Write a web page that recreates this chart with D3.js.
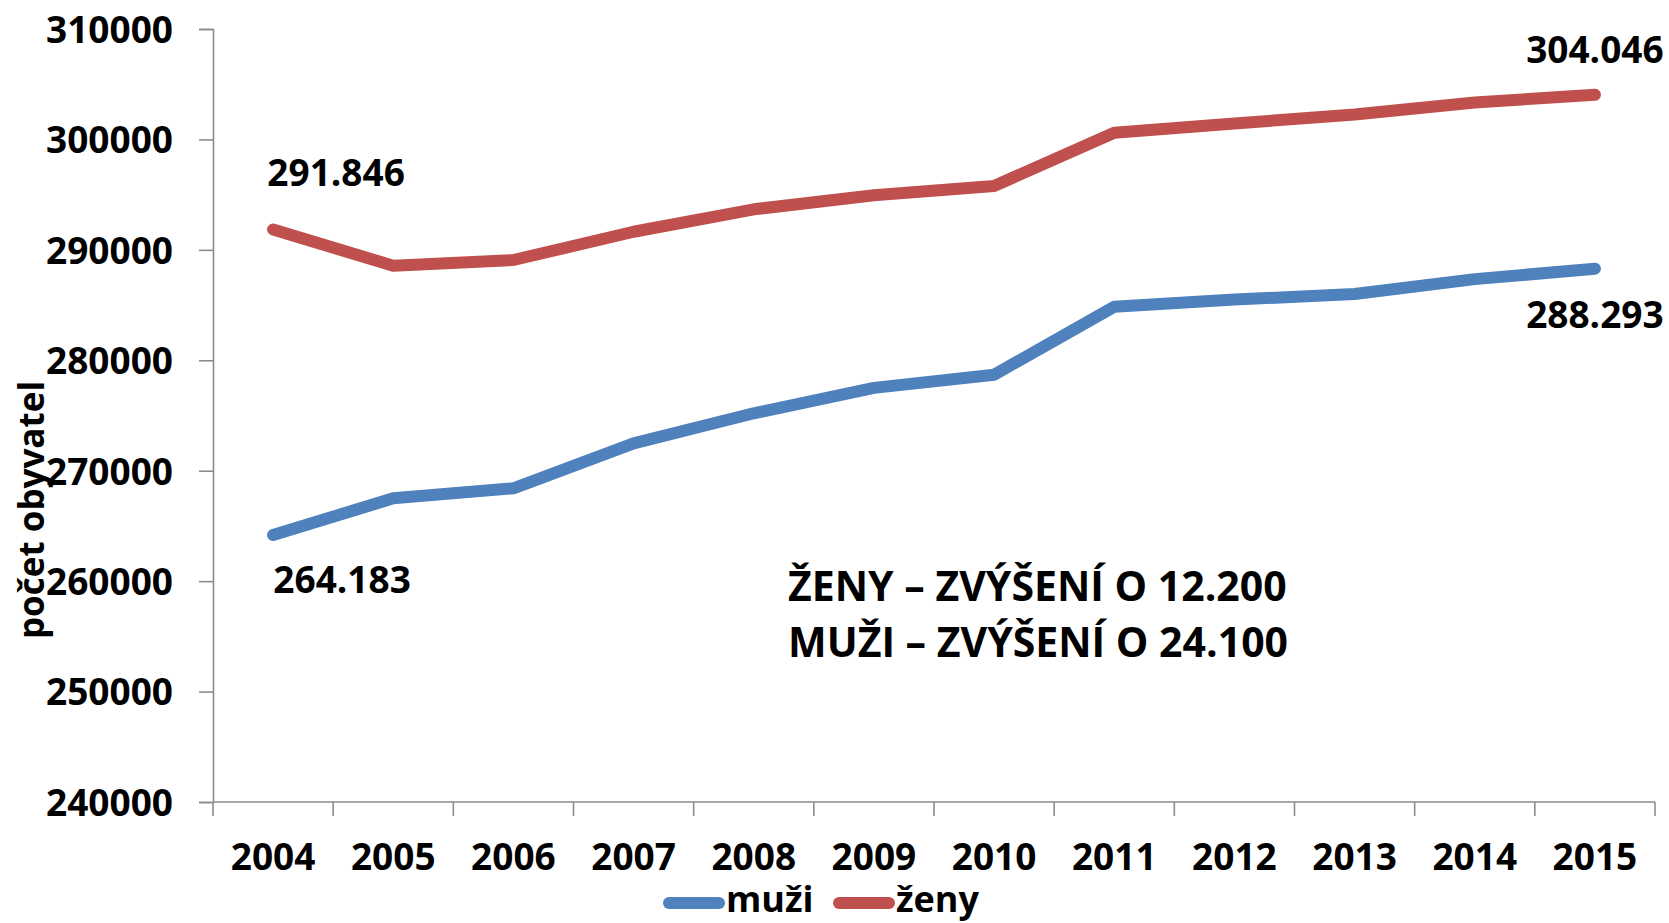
<!DOCTYPE html>
<html>
<head>
<meta charset="utf-8">
<script src="https://cdn.jsdelivr.net/npm/d3@7"></script>
<style>
  body { margin: 0; background: #fff; }
  text { font-family: "Open Sans", "Noto Sans", sans-serif; font-weight: 700; fill: #000; }
</style>
</head>
<body>
<div id="main"></div>
<script>
// data
const years = [2004, 2005, 2006, 2007, 2008, 2009, 2010, 2011, 2012, 2013, 2014, 2015]
const muzi = [264183, 267500, 268410, 272480, 275200, 277500, 278690, 284850, 285500, 286000, 287350, 288293]
const zeny = [291846, 288560, 289080, 291640, 293670, 294950, 295780, 300610, 301450, 302250, 303350, 304046]
const yTicks = [240000, 250000, 260000, 270000, 280000, 290000, 300000, 310000]
const seriesNames = ["muži", "ženy"]
const seriesColors = ["#4F81BD", "#C0504D"]
const yTitle = "počet obyvatel"
const note = ["ŽENY – ZVÝŠENÍ O 12.200", "MUŽI – ZVÝŠENÍ O 24.100"]

const W = 1669, H = 923
const ctx = {}

function initViz()
{
    let svg = d3.select("#main").append("svg").attr("width", W).attr("height", H)

    ctx.x = d3.scaleBand().domain(years).range([213, 1655])
    ctx.y = d3.scaleLinear().domain([240000, 310000]).range([802, 29])

    drawAxes(svg)
    drawLines(svg)
    drawLegend(svg)
}

function drawAxes(svg)
{
    // osa y
    let gy = svg.append("g").attr("transform", "translate(213,0)")
        .call(d3.axisLeft(ctx.y).tickValues(yTicks).tickSize(14).tickPadding(26).tickFormat(d3.format("d")))
    gy.selectAll("text").style("font-size", "37px").attr("dy", "0.36em")

    // osa x, carky mezi kategoriemi
    let gx = svg.append("g").attr("transform", "translate(0,802)")
    gx.append("line").attr("x1", 213).attr("x2", 1655).attr("y1", 0).attr("y2", 0)
    let edges = years.map(d => ctx.x(d)).concat([ctx.x(years[years.length - 1]) + ctx.x.bandwidth()])
    gx.selectAll(".tk").data(edges).enter().append("line")
        .attr("x1", d => d).attr("x2", d => d).attr("y1", 0).attr("y2", 14)
    gx.selectAll(".lb").data(years).enter().append("text")
        .attr("x", d => ctx.x(d) + ctx.x.bandwidth() / 2)
        .attr("y", 68)
        .attr("text-anchor", "middle")
        .style("font-size", "37px")
        .text(d => d)

    svg.selectAll(".domain, g line").attr("stroke", "#8c8c8c").attr("stroke-width", 1.6)

    svg.append("text")
        .attr("transform", "translate(44,510) rotate(-90)")
        .attr("text-anchor", "middle")
        .style("font-size", "35px")
        .text(yTitle)
}

function drawLines(svg)
{
    let data = [muzi, zeny]
    let cx = d => ctx.x(d) + ctx.x.bandwidth() / 2

    let line = d3.line()
        .x((d, i) => cx(years[i]))
        .y(d => ctx.y(d))

    svg.selectAll(".serie").data(data).enter().append("path")
        .attr("fill", "none")
        .attr("stroke", (d, i) => seriesColors[i])
        .attr("stroke-width", 12)
        .attr("stroke-linejoin", "round")
        .attr("stroke-linecap", "round")
        .attr("d", line)

    // popisky prvni a posledni hodnoty
    let fmt = d3.formatLocale({ decimal: ",", thousands: ".", grouping: [3], currency: ["", ""] }).format(",d")
    let last = years.length - 1
    let labels = [
        { v: zeny[0], x: cx(years[0]) + 63, dy: -43 },
        { v: muzi[0], x: cx(years[0]) + 69, dy: 58 },
        { v: zeny[last], x: cx(years[last]), dy: -32 },
        { v: muzi[last], x: cx(years[last]), dy: 59 }
    ]
    svg.selectAll(".val").data(labels).enter().append("text")
        .attr("x", d => d.x)
        .attr("y", d => ctx.y(d.v) + d.dy)
        .attr("text-anchor", "middle")
        .style("font-size", "37px")
        .text(d => fmt(d.v))

    svg.selectAll(".note").data(note).enter().append("text")
        .attr("x", 788)
        .attr("y", (d, i) => 601 + i * 56)
        .style("font-size", "41px")
        .text(d => d)
}

function drawLegend(svg)
{
    let items = [{ x: 663 }, { x: 833 }]
    let g = svg.append("g")
    items.forEach((it, i) => {
        g.append("line")
            .attr("x1", it.x + 6).attr("x2", it.x + 56)
            .attr("y1", 903).attr("y2", 903)
            .attr("stroke", seriesColors[i])
            .attr("stroke-width", 12)
            .attr("stroke-linecap", "round")
        g.append("text")
            .attr("x", it.x + 63)
            .attr("y", 912)
            .style("font-size", "36px")
            .text(seriesNames[i])
    })
}

initViz()
</script>
</body>
</html>
